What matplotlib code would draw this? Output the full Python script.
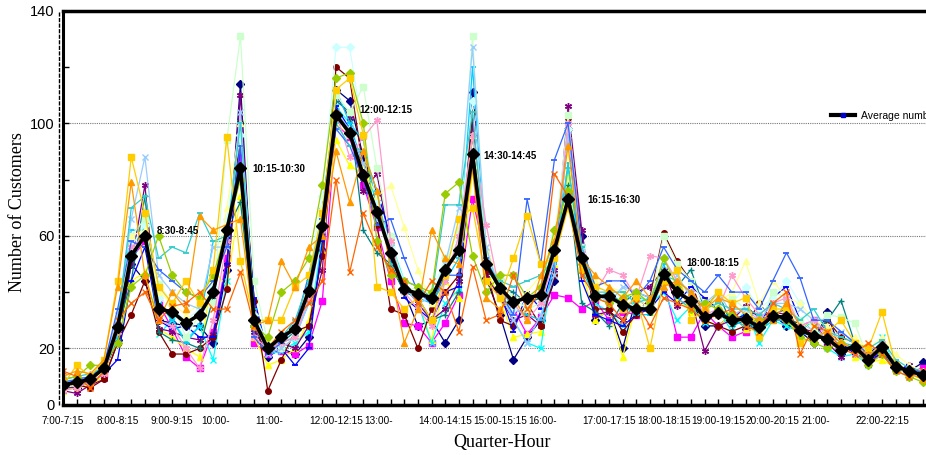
import numpy as np
import matplotlib
matplotlib.use("Agg")
import matplotlib.pyplot as plt
from matplotlib.lines import Line2D
from matplotlib import transforms

# quarter-hour slots 7:00 ... 22:45
n_slots = 64
tick_pos = [0, 4, 8, 12, 16, 20, 24, 28, 32, 36, 40, 44, 48, 52, 56, 60]
tick_text = ["7:00-7:15", "8:00-8:15", "9:00-9:15", "10:00-", "11:00-", "12:00-12:15",
             "13:00-", "14:00-14:15", "15:00-15:15", "16:00-", "17:00-17:15",
             "18:00-18:15", "19:00-19:15", "20:00-20:15", "21:00-", "22:00-22:15"]
cut_labels = ["10:00-", "11:00-", "13:00-", "16:00-", "21:00-"]

average = [7, 8, 9, 13, 27.5, 53, 60, 34, 33, 29, 32, 40, 62, 84, 30, 20,
           24, 27, 40.5, 63.5, 103, 96.5, 81.5, 68.5, 54, 41, 39.5, 38, 48, 55, 89, 50,
           41.5, 36.5, 38, 39, 55, 73, 52, 38.5, 38.5, 35.5, 34, 34, 46.5, 40, 37, 31,
           32.5, 30, 30.5, 27.5, 31.5, 31, 26.5, 24.5, 23.5, 19.5, 20.5, 16, 20.5, 13.5, 12, 10.5]

navy = [6, 6, 8, 12, 23, 50, 44, 30, 29, 28, 28, 22, 48, 114, 28, 17,
        20, 18, 24, 55, 112, 108, 88, 75, 50, 40, 28, 30, 22, 30, 111, 45,
        32, 16, 24, 30, 44, 98, 60, 30, 34, 20, 38, 34, 44, 40, 37, 28,
        28, 32, 27, 30, 32, 28, 26, 22, 33, 18, 20, 18, 22, 14, 12, 15]
magenta = [7, 9, 8, 11, 26, 52, 58, 36, 27, 17, 13, 26, 52, 88, 22, 18,
           19, 18, 21, 37, 100, 95, 78, 63, 44, 29, 28, 22, 29, 39, 73, 52,
           44, 34, 25, 31, 39, 38, 34, 37, 30, 33, 32, 35, 44, 24, 24, 33,
           28, 24, 26, 29, 32, 30, 28, 30, 22, 20, 20, 17, 18, 13, 12, 13]
yellow = [5, 6, 7, 10, 22, 44, 47, 27, 24, 20, 17, 48, 42, 74, 24, 14,
          16, 20, 30, 55, 94, 85, 82, 70, 58, 43, 36, 23, 44, 38, 83, 48,
          38, 24, 25, 26, 50, 82, 48, 30, 34, 17, 36, 33, 45, 38, 33, 30,
          28, 32, 27, 26, 30, 31, 28, 29, 21, 22, 17, 15, 16, 13, 11, 9]
cyan = [8, 7, 9, 12, 24, 50, 62, 25, 30, 23, 28, 16, 44, 100, 27, 18,
        19, 22, 26, 60, 106, 100, 85, 72, 58, 44, 36, 22, 36, 41, 104, 48,
        42, 30, 22, 20, 53, 74, 56, 36, 33, 28, 39, 36, 40, 30, 35, 29,
        34, 26, 34, 22, 30, 28, 26, 30, 20, 17, 18, 14, 24, 13, 11, 10]
purple = [5, 4, 7, 9, 22, 50, 78, 27, 26, 24, 23, 25, 50, 110, 26, 19,
          22, 20, 28, 48, 110, 102, 76, 82, 56, 42, 36, 30, 34, 44, 100, 46,
          38, 30, 32, 28, 48, 106, 62, 32, 33, 30, 40, 42, 48, 35, 38, 19,
          28, 30, 35, 31, 33, 32, 27, 26, 22, 17, 22, 14, 19, 12, 14, 11]
maroon = [6, 7, 6, 9, 22, 32, 44, 26, 18, 18, 20, 24, 41, 100, 37, 5,
          16, 26, 28, 53, 120, 116, 84, 64, 34, 32, 20, 34, 40, 46, 104, 48,
          30, 28, 36, 28, 46, 102, 56, 34, 34, 26, 32, 38, 61, 51, 44, 30,
          28, 26, 28, 36, 30, 30, 29, 24, 30, 24, 22, 18, 20, 14, 12, 11]
teal = [7, 8, 9, 13, 27, 44, 74, 26, 23, 22, 20, 38, 62, 72, 30, 20,
        22, 26, 40, 70, 108, 104, 62, 54, 50, 40, 38, 30, 32, 40, 96, 50,
        42, 40, 36, 38, 60, 78, 36, 33, 28, 36, 40, 38, 44, 42, 48, 34,
        40, 28, 30, 25, 32, 34, 26, 25, 30, 37, 22, 18, 18, 13, 12, 11]
blue = [7, 8, 8, 11, 16, 44, 56, 30, 27, 28, 24, 24, 50, 92, 38, 18,
        20, 14, 20, 58, 106, 98, 86, 76, 60, 38, 34, 30, 40, 42, 90, 54,
        40, 26, 40, 34, 50, 98, 44, 32, 30, 28, 32, 34, 40, 36, 42, 38,
        34, 30, 32, 28, 38, 42, 30, 26, 28, 22, 18, 16, 18, 12, 14, 9]
skyblue = [8, 9, 10, 12, 30, 62, 62, 36, 30, 22, 28, 58, 58, 100, 34, 20,
           22, 24, 36, 66, 112, 100, 94, 70, 54, 42, 38, 36, 44, 52, 120, 52,
           42, 34, 32, 30, 50, 86, 48, 38, 40, 36, 32, 32, 50, 38, 34, 30,
           34, 30, 28, 26, 30, 30, 26, 24, 24, 22, 21, 16, 22, 14, 12, 10]
lightcyan = [9, 9, 10, 14, 30, 56, 64, 38, 34, 30, 34, 42, 66, 96, 32, 22,
             24, 28, 46, 74, 127, 127, 96, 72, 56, 44, 42, 40, 52, 58, 108, 52,
             44, 34, 36, 40, 60, 98, 54, 42, 40, 38, 34, 36, 52, 44, 40, 34,
             38, 36, 42, 34, 38, 44, 36, 26, 24, 22, 20, 17, 22, 14, 12, 10]
palegreen = [8, 9, 9, 14, 30, 60, 66, 43, 36, 24, 32, 36, 94, 131, 44, 22,
             20, 24, 42, 66, 110, 104, 113, 84, 60, 40, 42, 36, 52, 62, 131, 54,
             44, 38, 34, 36, 56, 103, 56, 40, 38, 34, 38, 36, 60, 50, 44, 36,
             36, 38, 34, 28, 40, 38, 30, 26, 32, 31, 29, 16, 22, 14, 12, 10]
lightyellow = [6, 7, 8, 12, 28, 60, 62, 40, 36, 32, 36, 40, 70, 100, 30, 22,
               24, 28, 44, 70, 100, 96, 84, 74, 78, 63, 48, 36, 48, 56, 96, 56,
               44, 36, 40, 46, 60, 90, 54, 44, 42, 40, 38, 34, 46, 42, 40, 34,
               36, 40, 51, 36, 44, 38, 36, 30, 28, 22, 24, 20, 24, 18, 14, 12]
lightblue = [9, 10, 9, 14, 32, 66, 88, 46, 40, 36, 34, 56, 56, 104, 30, 18,
             20, 24, 36, 62, 104, 98, 86, 66, 56, 42, 36, 38, 50, 70, 127, 56,
             40, 30, 22, 32, 46, 96, 56, 40, 36, 42, 40, 38, 48, 46, 38, 36,
             40, 32, 34, 30, 36, 36, 34, 30, 24, 26, 22, 18, 20, 12, 10, 11]
pink = [5, 6, 8, 11, 26, 56, 60, 30, 28, 20, 13, 30, 58, 84, 24, 20,
        22, 24, 38, 62, 104, 88, 95, 101, 58, 40, 34, 28, 44, 60, 96, 64,
        40, 36, 30, 36, 52, 100, 54, 40, 48, 46, 38, 53, 52, 44, 40, 32,
        34, 46, 38, 32, 36, 38, 28, 30, 26, 20, 18, 15, 22, 12, 12, 10]
royalblue = [8, 9, 10, 14, 34, 58, 56, 48, 44, 40, 38, 44, 56, 92, 24, 18,
             22, 28, 46, 66, 98, 92, 80, 64, 66, 52, 40, 36, 46, 46, 88, 52,
             40, 32, 73, 50, 87, 100, 56, 42, 44, 44, 38, 44, 56, 48, 44, 40,
             46, 40, 40, 34, 44, 54, 45, 30, 30, 26, 22, 18, 20, 14, 12, 12]
turquoise = [9, 10, 11, 13, 28, 70, 74, 52, 56, 54, 68, 58, 60, 100, 28, 20,
             24, 30, 44, 68, 100, 92, 90, 76, 50, 44, 42, 38, 71, 71, 104, 50,
             44, 42, 44, 46, 52, 84, 56, 40, 40, 40, 36, 38, 46, 44, 40, 34,
             36, 34, 34, 32, 36, 34, 30, 34, 26, 24, 22, 20, 23, 16, 13, 12]
yellowgreen = [9, 10, 14, 14, 22, 42, 46, 60, 46, 40, 38, 46, 62, 80, 28, 24,
               40, 44, 52, 78, 116, 118, 100, 58, 46, 44, 42, 40, 75, 79, 53, 40,
               46, 46, 38, 42, 62, 76, 50, 38, 36, 38, 40, 36, 52, 42, 34, 36,
               34, 32, 30, 30, 32, 30, 24, 22, 20, 22, 20, 14, 18, 12, 10, 8]
gold = [7, 14, 10, 16, 44, 88, 68, 42, 36, 44, 36, 48, 95, 51, 30, 30,
        30, 42, 46, 68, 112, 116, 96, 42, 40, 34, 38, 30, 46, 66, 70, 44,
        38, 52, 67, 50, 52, 70, 48, 42, 40, 34, 38, 20, 44, 48, 30, 34,
        40, 36, 38, 24, 34, 34, 22, 24, 26, 30, 22, 20, 33, 14, 12, 10]
orange = [10, 12, 11, 16, 42, 79, 46, 30, 40, 34, 67, 62, 64, 66, 28, 30,
          51, 42, 56, 60, 90, 72, 90, 76, 48, 22, 34, 62, 52, 50, 84, 38,
          34, 38, 30, 46, 58, 92, 52, 46, 42, 38, 44, 38, 42, 44, 40, 34,
          38, 36, 32, 30, 30, 36, 28, 24, 26, 22, 20, 18, 20, 14, 11, 9]
darkorange = [12, 10, 6, 12, 30, 36, 40, 30, 35, 36, 40, 34, 34, 47, 28, 20,
              26, 30, 36, 44, 80, 47, 68, 56, 48, 44, 36, 44, 40, 26, 49, 30,
              32, 46, 34, 40, 82, 74, 46, 38, 36, 30, 36, 28, 38, 36, 34, 30,
              32, 34, 28, 26, 36, 40, 18, 28, 26, 20, 18, 22, 18, 12, 10, 12]

peak_pos = [6.9, 13.9, 21.7, 30.8, 38.4, 45.7]
peak_val = [61.7, 83.6, 104.6, 88.4, 72.8, 50.5]
peak_text = ["8:30-8:45", "10:15-10:30", "12:00-12:15", "14:30-14:45", "16:15-16:30", "18:00-18:15"]

asterisk = (6, 2, 0)
series = [
    (navy, "#000080", "D"), (magenta, "#FF00FF", "s"), (yellow, "#FFFF00", "^"),
    (cyan, "#00FFFF", "x"), (purple, "#800080", asterisk), (maroon, "#800000", "o"),
    (teal, "#008080", "+"), (blue, "#0000FF", "_"), (skyblue, "#00CCFF", "_"),
    (lightcyan, "#CCFFFF", "D"), (palegreen, "#CCFFCC", "s"), (lightyellow, "#FFFF99", "^"),
    (lightblue, "#99CCFF", "x"), (pink, "#FF99CC", asterisk), (royalblue, "#3366FF", "_"),
    (turquoise, "#33CCCC", "_"), (yellowgreen, "#99CC00", "D"), (gold, "#FFCC00", "s"),
    (orange, "#FF9900", "^"), (darkorange, "#FF6600", "x"),
]

W, H = 926, 455
fig = plt.figure(figsize=(W / 100, H / 100), dpi=100)
x0, y0, ytop, step = 63, 404.7, 10.7, 13.65
ax = fig.add_axes([x0 / W, (H - y0) / H, 63.3 * step / W, (y0 - ytop) / H])
x = np.arange(n_slots)

for vals, col, mk in series:
    ms = 4 if mk not in ("_", "x", "+", asterisk) else 5
    ax.plot(x, vals, color=col, lw=0.9, marker=mk, ms=ms, mew=1.3 if mk == "_" else 1,
            mfc=col, mec=col, zorder=2)
ax.plot(x, average, color="black", lw=2.6, marker="D", ms=6, zorder=4)

ax.set_xlim(0, 63.3)
ax.set_ylim(0, 140)
for g in (20, 60, 100):
    ax.axhline(g, color="#777777", lw=0.8, ls=(0, (1, 1)), zorder=1)

ax.set_yticks([0, 20, 60, 100, 140])
ax.set_yticks([40, 80, 120], minor=True)
ax.tick_params(axis="y", which="both", direction="in", length=4, width=1, labelsize=10.5, pad=6)
ax.set_xticks(x)
ax.set_xticklabels([])
ax.tick_params(axis="x", direction="in", length=4, width=1)
for lab in ax.get_yticklabels():
    lab.set_fontfamily("Liberation Sans")

# category labels (the short ones sit where the full label would be centred)
trans = ax.get_xaxis_transform()
for pos, txt in zip(tick_pos, tick_text):
    if txt in cut_labels:
        tr = transforms.offset_copy(trans, fig=fig, x=-26, y=0, units="dots")
        ax.text(pos, -0.042, txt, transform=tr, ha="left", va="center", fontsize=7.2,
                family="Liberation Sans")
    else:
        ax.text(pos, -0.042, txt, transform=trans, ha="center", va="center", fontsize=7.2,
                family="Liberation Sans")

for px, py, t in zip(peak_pos, peak_val, peak_text):
    ax.text(px, py, t, fontsize=7, fontweight="bold", family="Liberation Sans",
            ha="left", va="center", zorder=6)

ax.spines["right"].set_visible(False)
ax.spines["bottom"].set_linewidth(2.5)
ax.spines["left"].set_linewidth(2.2)
ax.spines["top"].set_linewidth(2.5)
ax.spines["top"].set_linestyle((0, (2, 1)))
fig.add_artist(Line2D([58.5 / W, 58.5 / W], [(H - y0) / H, (H - ytop) / H], color="black",
                      lw=1, ls=(0, (3, 1)), transform=fig.transFigure))

fig.text(502 / W, 1 - 443 / H, "Quarter-Hour", ha="center", va="center", fontsize=13,
         family="Liberation Serif")
fig.text(18 / W, 1 - 212 / H, "Number of Customers", ha="center", va="center", fontsize=13,
         family="Liberation Serif", rotation=90)

# legend runs off the right edge, as in the source image
handle = Line2D([], [], color="black", lw=3, marker="s", ms=3, mfc="#0000CC", mec="#0000CC")
ax.legend([handle], ["Average number of customers"], loc="center left",
          bbox_to_anchor=(826 / W, 1 - 116 / H), bbox_transform=fig.transFigure,
          frameon=False, handlelength=2.3, handletextpad=0.6, borderpad=0,
          prop={"family": "Liberation Sans", "size": 7.5})

fig.savefig("out.png", dpi=100)
